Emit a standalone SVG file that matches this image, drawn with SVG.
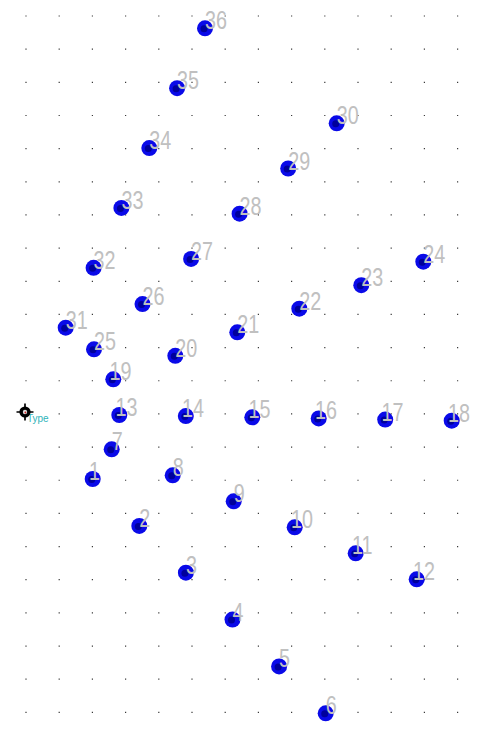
<svg xmlns="http://www.w3.org/2000/svg" xmlns:xlink="http://www.w3.org/1999/xlink" width="481" height="729" viewBox="0 0 481 729">
<style>
.grid{stroke:#3a3a3a;stroke-width:1.2;fill:none}
.pt{fill:#0a0ae8}
.core{fill:#00009c}
.lbl{font-family:"Liberation Sans",Arial,sans-serif;font-size:26px;fill:#c0c0c0}
.type{font-family:"Liberation Sans",Arial,sans-serif;font-size:10px;fill:#2fb4ba}
</style>
<defs>
<path id="row" class="grid" d="M25.4 0h1.2M58.6 0h1.2M91.8 0h1.2M125 0h1.2M158.2 0h1.2M191.4 0h1.2M224.6 0h1.2M257.8 0h1.2M291 0h1.2M324.2 0h1.2M357.4 0h1.2M390.6 0h1.2M423.8 0h1.2M457 0h1.2"/>
</defs>
<rect width="481" height="729" fill="#ffffff"/>
<g id="grid">
<use xlink:href="#row" y="16"/><use xlink:href="#row" y="49.16"/><use xlink:href="#row" y="82.32"/><use xlink:href="#row" y="115.48"/><use xlink:href="#row" y="148.64"/><use xlink:href="#row" y="181.8"/><use xlink:href="#row" y="214.96"/><use xlink:href="#row" y="248.12"/><use xlink:href="#row" y="281.28"/><use xlink:href="#row" y="314.44"/><use xlink:href="#row" y="347.6"/><use xlink:href="#row" y="380.76"/><use xlink:href="#row" y="413.92"/><use xlink:href="#row" y="447.08"/><use xlink:href="#row" y="480.24"/><use xlink:href="#row" y="513.4"/><use xlink:href="#row" y="546.56"/><use xlink:href="#row" y="579.72"/><use xlink:href="#row" y="612.88"/><use xlink:href="#row" y="646.04"/><use xlink:href="#row" y="679.2"/><use xlink:href="#row" y="712.36"/>
</g>
<g id="connectors"/>
<g id="origin">
<text class="type" x="27" y="422">Type</text>
<path d="M16.5 412h17M25 403.5v17" stroke="#000" stroke-width="1.7"/>
<circle cx="25" cy="412" r="5.6" fill="#000"/>
<circle cx="25" cy="412" r="2.2" fill="#ddd"/>
<circle cx="25.4" cy="412.5" r="0.9" fill="#d02020"/>
</g>
<g id="nodes">
<g id="n1"><circle class="pt" cx="92.7" cy="479" r="8"/><circle class="core" cx="91.7" cy="479.5" r="3.5"/><text class="lbl" transform="translate(88.9,480) scale(0.76,1)">1</text></g>
<g id="n2"><circle class="pt" cx="139.3" cy="525.9" r="8"/><circle class="core" cx="138.3" cy="526.4" r="3.5"/><text class="lbl" transform="translate(139.3,526.9) scale(0.76,1)">2</text></g>
<g id="n3"><circle class="pt" cx="185.9" cy="572.7" r="8"/><circle class="core" cx="184.9" cy="573.2" r="3.5"/><text class="lbl" transform="translate(185.9,573.7) scale(0.76,1)">3</text></g>
<g id="n4"><circle class="pt" cx="232.5" cy="619.6" r="8"/><circle class="core" cx="231.5" cy="620.1" r="3.5"/><text class="lbl" transform="translate(232.5,620.6) scale(0.76,1)">4</text></g>
<g id="n5"><circle class="pt" cx="279.1" cy="666.4" r="8"/><circle class="core" cx="278.1" cy="666.9" r="3.5"/><text class="lbl" transform="translate(279.1,667.4) scale(0.76,1)">5</text></g>
<g id="n6"><circle class="pt" cx="325.7" cy="713.3" r="8"/><circle class="core" cx="324.7" cy="713.8" r="3.5"/><text class="lbl" transform="translate(325.7,714.3) scale(0.76,1)">6</text></g>
<g id="n7"><circle class="pt" cx="111.7" cy="449.3" r="8"/><circle class="core" cx="110.7" cy="449.8" r="3.5"/><text class="lbl" transform="translate(111.7,450.3) scale(0.76,1)">7</text></g>
<g id="n8"><circle class="pt" cx="172.7" cy="475.3" r="8"/><circle class="core" cx="171.7" cy="475.8" r="3.5"/><text class="lbl" transform="translate(172.7,476.3) scale(0.76,1)">8</text></g>
<g id="n9"><circle class="pt" cx="233.7" cy="501.3" r="8"/><circle class="core" cx="232.7" cy="501.8" r="3.5"/><text class="lbl" transform="translate(233.7,502.3) scale(0.76,1)">9</text></g>
<g id="n10"><circle class="pt" cx="294.7" cy="527.3" r="8"/><circle class="core" cx="293.7" cy="527.8" r="3.5"/><text class="lbl" transform="translate(290.9,528.3) scale(0.76,1)">10</text></g>
<g id="n11"><circle class="pt" cx="355.7" cy="553.3" r="8"/><circle class="core" cx="354.7" cy="553.8" r="3.5"/><text class="lbl" transform="translate(351.9,554.3) scale(0.76,1)">11</text></g>
<g id="n12"><circle class="pt" cx="416.7" cy="579.3" r="8"/><circle class="core" cx="415.7" cy="579.8" r="3.5"/><text class="lbl" transform="translate(412.9,580.3) scale(0.76,1)">12</text></g>
<g id="n13"><circle class="pt" cx="119.3" cy="415" r="8"/><circle class="core" cx="118.3" cy="415.5" r="3.5"/><text class="lbl" transform="translate(115.5,416) scale(0.76,1)">13</text></g>
<g id="n14"><circle class="pt" cx="185.8" cy="416.1" r="8"/><circle class="core" cx="184.8" cy="416.6" r="3.5"/><text class="lbl" transform="translate(182,417.1) scale(0.76,1)">14</text></g>
<g id="n15"><circle class="pt" cx="252.3" cy="417.3" r="8"/><circle class="core" cx="251.3" cy="417.8" r="3.5"/><text class="lbl" transform="translate(248.5,418.3) scale(0.76,1)">15</text></g>
<g id="n16"><circle class="pt" cx="318.7" cy="418.4" r="8"/><circle class="core" cx="317.7" cy="418.9" r="3.5"/><text class="lbl" transform="translate(314.9,419.4) scale(0.76,1)">16</text></g>
<g id="n17"><circle class="pt" cx="385.2" cy="419.6" r="8"/><circle class="core" cx="384.2" cy="420.1" r="3.5"/><text class="lbl" transform="translate(381.4,420.6) scale(0.76,1)">17</text></g>
<g id="n18"><circle class="pt" cx="451.7" cy="420.7" r="8"/><circle class="core" cx="450.7" cy="421.2" r="3.5"/><text class="lbl" transform="translate(447.9,421.7) scale(0.76,1)">18</text></g>
<g id="n19"><circle class="pt" cx="113.3" cy="379.3" r="8"/><circle class="core" cx="112.3" cy="379.8" r="3.5"/><text class="lbl" transform="translate(109.5,380.3) scale(0.76,1)">19</text></g>
<g id="n20"><circle class="pt" cx="175.3" cy="355.8" r="8"/><circle class="core" cx="174.3" cy="356.3" r="3.5"/><text class="lbl" transform="translate(175.3,356.8) scale(0.76,1)">20</text></g>
<g id="n21"><circle class="pt" cx="237.3" cy="332.3" r="8"/><circle class="core" cx="236.3" cy="332.8" r="3.5"/><text class="lbl" transform="translate(237.3,333.3) scale(0.76,1)">21</text></g>
<g id="n22"><circle class="pt" cx="299.3" cy="308.7" r="8"/><circle class="core" cx="298.3" cy="309.2" r="3.5"/><text class="lbl" transform="translate(299.3,309.7) scale(0.76,1)">22</text></g>
<g id="n23"><circle class="pt" cx="361.3" cy="285.2" r="8"/><circle class="core" cx="360.3" cy="285.7" r="3.5"/><text class="lbl" transform="translate(361.3,286.2) scale(0.76,1)">23</text></g>
<g id="n24"><circle class="pt" cx="423.3" cy="261.7" r="8"/><circle class="core" cx="422.3" cy="262.2" r="3.5"/><text class="lbl" transform="translate(423.3,262.7) scale(0.76,1)">24</text></g>
<g id="n25"><circle class="pt" cx="94" cy="349.3" r="8"/><circle class="core" cx="93" cy="349.8" r="3.5"/><text class="lbl" transform="translate(94,350.3) scale(0.76,1)">25</text></g>
<g id="n26"><circle class="pt" cx="142.5" cy="304.1" r="8"/><circle class="core" cx="141.5" cy="304.6" r="3.5"/><text class="lbl" transform="translate(142.5,305.1) scale(0.76,1)">26</text></g>
<g id="n27"><circle class="pt" cx="191.1" cy="258.9" r="8"/><circle class="core" cx="190.1" cy="259.4" r="3.5"/><text class="lbl" transform="translate(191.1,259.9) scale(0.76,1)">27</text></g>
<g id="n28"><circle class="pt" cx="239.6" cy="213.7" r="8"/><circle class="core" cx="238.6" cy="214.2" r="3.5"/><text class="lbl" transform="translate(239.6,214.7) scale(0.76,1)">28</text></g>
<g id="n29"><circle class="pt" cx="288.2" cy="168.5" r="8"/><circle class="core" cx="287.2" cy="169" r="3.5"/><text class="lbl" transform="translate(288.2,169.5) scale(0.76,1)">29</text></g>
<g id="n30"><circle class="pt" cx="336.7" cy="123.3" r="8"/><circle class="core" cx="335.7" cy="123.8" r="3.5"/><text class="lbl" transform="translate(336.7,124.3) scale(0.76,1)">30</text></g>
<g id="n31"><circle class="pt" cx="65.7" cy="327.7" r="8"/><circle class="core" cx="64.7" cy="328.2" r="3.5"/><text class="lbl" transform="translate(65.7,328.7) scale(0.76,1)">31</text></g>
<g id="n32"><circle class="pt" cx="93.6" cy="267.8" r="8"/><circle class="core" cx="92.6" cy="268.3" r="3.5"/><text class="lbl" transform="translate(93.6,268.8) scale(0.76,1)">32</text></g>
<g id="n33"><circle class="pt" cx="121.4" cy="207.9" r="8"/><circle class="core" cx="120.4" cy="208.4" r="3.5"/><text class="lbl" transform="translate(121.4,208.9) scale(0.76,1)">33</text></g>
<g id="n34"><circle class="pt" cx="149.3" cy="148.1" r="8"/><circle class="core" cx="148.3" cy="148.6" r="3.5"/><text class="lbl" transform="translate(149.3,149.1) scale(0.76,1)">34</text></g>
<g id="n35"><circle class="pt" cx="177.1" cy="88.2" r="8"/><circle class="core" cx="176.1" cy="88.7" r="3.5"/><text class="lbl" transform="translate(177.1,89.2) scale(0.76,1)">35</text></g>
<g id="n36"><circle class="pt" cx="205" cy="28.3" r="8"/><circle class="core" cx="204" cy="28.8" r="3.5"/><text class="lbl" transform="translate(205,29.3) scale(0.76,1)">36</text></g>
</g>
</svg>
